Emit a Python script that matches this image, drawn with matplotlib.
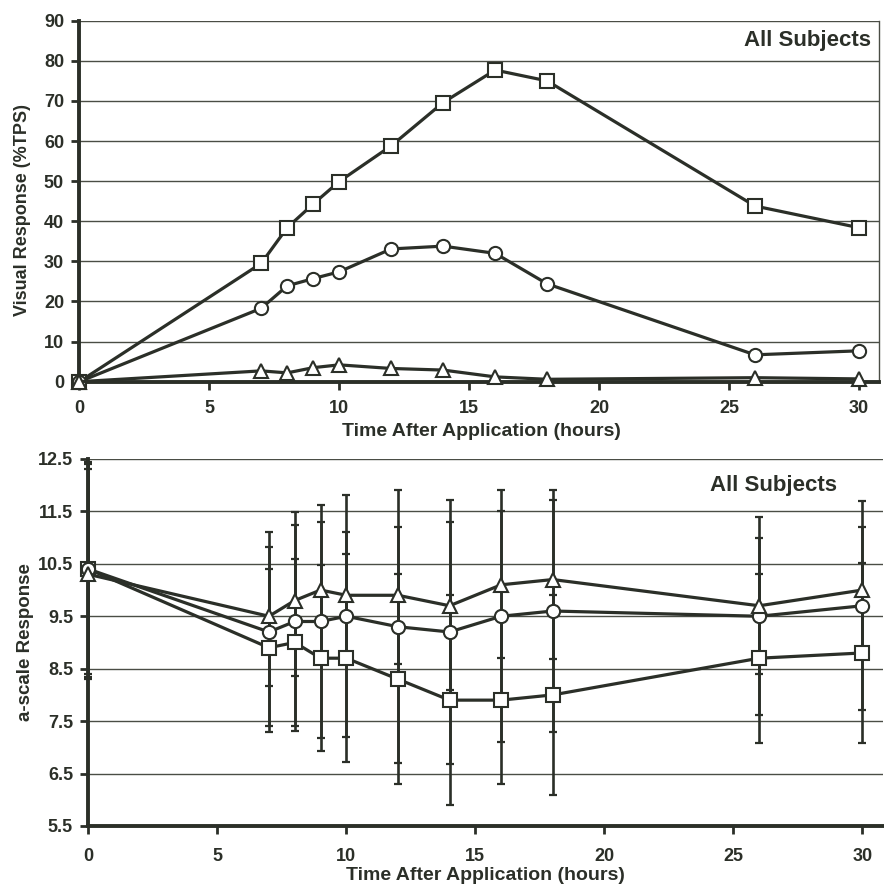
import matplotlib
matplotlib.use("Agg")
import matplotlib.pyplot as plt

plt.rcParams['font.family'] = ['Liberation Sans', 'DejaVu Sans']
plt.rcParams['font.weight'] = 'bold'

INK = "#2b2f28"
GRID = "#4a4d45"

# time points (hours)
hours = [0, 7, 8, 9, 10, 12, 14, 16, 18, 26, 30]

# top panel: visual response (%TPS)
vis_square = [0, 29.5, 38.4, 44.3, 49.9, 58.8, 69.6, 77.7, 75.0, 43.8, 38.4]
vis_circle = [0, 18.3, 23.9, 25.7, 27.4, 33.1, 33.8, 32.0, 24.4, 6.7, 7.7]
vis_triangle = [0, 2.7, 2.2, 3.5, 4.2, 3.3, 2.9, 1.2, 0.6, 1.0, 0.7]

# bottom panel: a-scale response, means and standard deviations
a_triangle = [10.3, 9.5, 9.8, 10.0, 9.9, 9.9, 9.7, 10.1, 10.2, 9.7, 10.0]
a_circle = [10.4, 9.2, 9.4, 9.4, 9.5, 9.3, 9.2, 9.5, 9.6, 9.5, 9.7]
a_square = [10.4, 8.9, 9.0, 8.7, 8.7, 8.3, 7.9, 7.9, 8.0, 8.7, 8.8]
sd_triangle = [2.0, 1.33, 1.44, 1.3, 1.21, 1.31, 1.6, 1.4, 1.52, 1.3, 1.2]
sd_circle = [2.0, 1.9, 2.09, 2.22, 2.31, 2.6, 2.51, 2.4, 2.3, 1.89, 1.99]
sd_square = [2.05, 1.5, 1.6, 1.77, 1.98, 2.0, 2.0, 1.6, 1.9, 1.61, 1.71]

top_yticks = list(range(0, 91, 10))
bot_yticks = [5.5, 6.5, 7.5, 8.5, 9.5, 10.5, 11.5, 12.5]
xticks = [0, 5, 10, 15, 20, 25, 30]

fig = plt.figure(figsize=(8.84, 8.85), dpi=100)
fig.patch.set_facecolor("white")

ax1 = fig.add_axes([0.0897, 0.5687, 0.9046, 0.4079])
ax2 = fig.add_axes([0.0999, 0.0667, 0.8990, 0.4147])

mk = dict(color=INK, lw=2.3, mfc="white", mec=INK, mew=1.5, clip_on=False, zorder=4)

# top panel
ax1.plot(hours, vis_square, marker="s", ms=9.5, **mk)
ax1.plot(hours, vis_circle, marker="o", ms=9.5, **mk)
ax1.plot(hours, vis_triangle, marker="^", ms=10.5, **mk)
ax1.set_xlim(0, 30.77)
ax1.set_ylim(0, 90)
ax1.set_yticks(top_yticks)
ax1.set_xticks(xticks)
ax1.set_ylabel("Visual Response (%TPS)", fontsize=13, fontweight="bold", color=INK)
ax1.yaxis.set_label_coords(-0.061, 0.475)
ax1.set_xlabel("Time After Application (hours)", fontsize=14, fontweight="bold", color=INK)
ax1.xaxis.label.set_va("center")
ax1.xaxis.set_label_coords(0.503, -0.139)
ax1.text(0.99, 0.945, "All Subjects", transform=ax1.transAxes, ha="right", va="center",
         fontsize=16, fontweight="bold", color=INK)

# bottom panel
eb = dict(ecolor=INK, elinewidth=1.9, capsize=3.0, capthick=1.6, zorder=3)
for mean, sd in [(a_triangle, sd_triangle), (a_circle, sd_circle), (a_square, sd_square)]:
    ax2.errorbar(hours, mean, yerr=sd, fmt="none", clip_on=False, **eb)
ax2.plot(hours, a_square, marker="s", ms=9.5, **mk)
ax2.plot(hours, a_circle, marker="o", ms=9.5, **mk)
ax2.plot(hours, a_triangle, marker="^", ms=10.5, **mk)
ax2.set_xlim(0, 30.8)
ax2.set_ylim(5.5, 12.5)
ax2.set_yticks(bot_yticks)
ax2.set_yticklabels([str(v) for v in bot_yticks])
ax2.set_xticks(xticks)
ax2.set_ylabel("a-scale Response", fontsize=13.5, fontweight="bold", color=INK)
ax2.yaxis.set_label_coords(-0.068, 0.5)
ax2.set_xlabel("Time After Application (hours)", fontsize=14, fontweight="bold", color=INK)
ax2.xaxis.label.set_va("center")
ax2.xaxis.set_label_coords(0.5, -0.134)
ax2.text(0.942, 0.928, "All Subjects", transform=ax2.transAxes, ha="right", va="center",
         fontsize=16, fontweight="bold", color=INK)

for ax in (ax1, ax2):
    ax.set_facecolor("white")
    ax.grid(axis="y", color=GRID, lw=1.0)
    ax.set_axisbelow(True)
    ax.spines["left"].set_linewidth(2.8)
    ax.spines["bottom"].set_linewidth(2.8)
    ax.spines["left"].set_color(INK)
    ax.spines["bottom"].set_color(INK)
    ax.spines["top"].set_visible(False)
    ax.tick_params(axis="both", direction="out", length=6, width=2, color=INK,
                   labelsize=13, labelcolor=INK)
    ax.tick_params(axis="y", pad=5)
    for lab in ax.get_xticklabels() + ax.get_yticklabels():
        lab.set_fontweight("bold")
ax1.tick_params(axis="x", pad=7)
ax2.tick_params(axis="x", pad=10)
ax1.spines["right"].set_color(GRID)
ax1.spines["right"].set_linewidth(1.0)
ax2.spines["right"].set_visible(False)

fig.savefig("out.png", dpi=100, facecolor="white")
